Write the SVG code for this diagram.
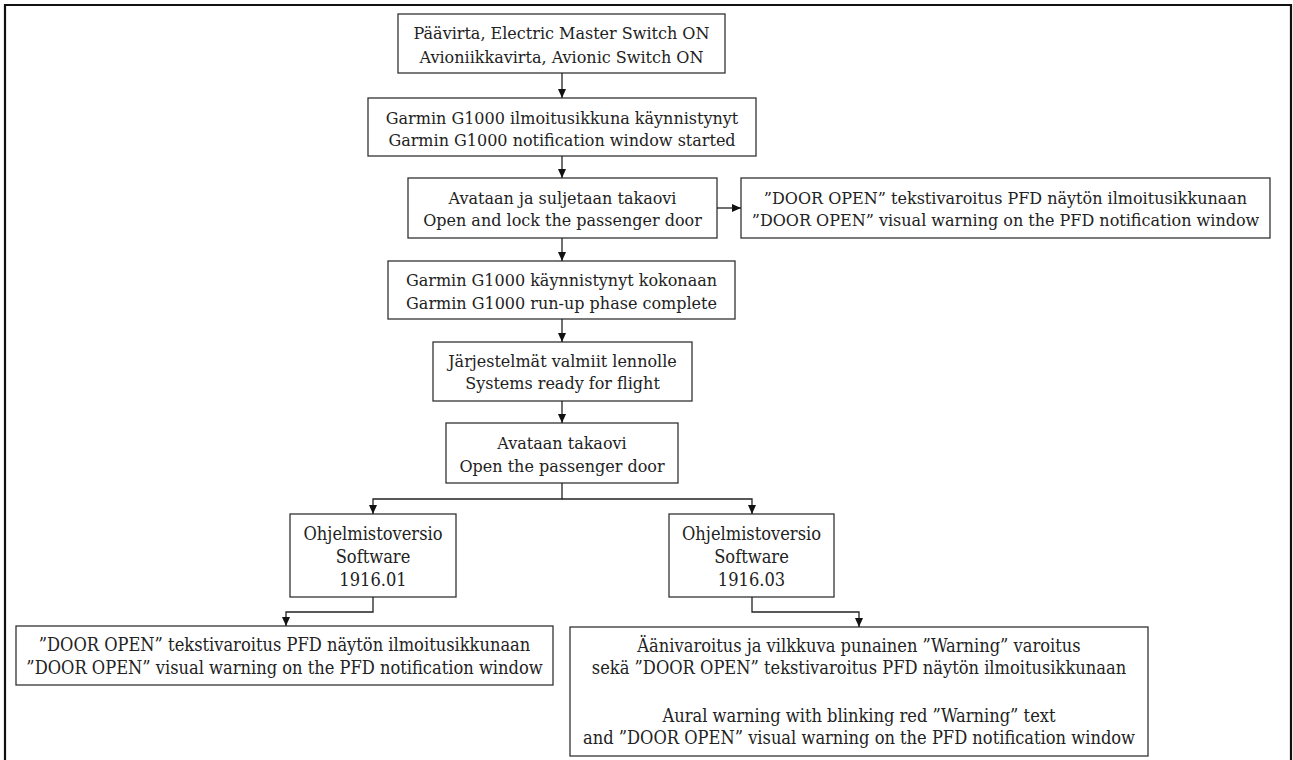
<svg xmlns="http://www.w3.org/2000/svg" width="1293" height="760" viewBox="0 0 1293 760">
<style>
.box{fill:#fff;stroke:#333;stroke-width:1.3}
.t{font-family:"DejaVu Serif","Liberation Serif",serif;font-size:16px;fill:#222;text-anchor:middle}
.k{font-family:"DejaVu Serif","Liberation Serif",serif;font-stretch:condensed;font-size:18.1px;fill:#222;text-anchor:middle}
.c{fill:none;stroke:#222;stroke-width:1.3}
</style>
<defs>
<marker id="ah" markerUnits="userSpaceOnUse" markerWidth="10" markerHeight="10" refX="9" refY="5" orient="auto">
<path d="M0,1 L9,5 L0,9 Z" fill="#111"/>
</marker>
</defs>
<rect x="0" y="0" width="1293" height="760" fill="#fff"/>
<path d="M5,762 L5,5 L1291,5 L1291,762" fill="none" stroke="#111" stroke-width="2.2"/>
<g id="n1"><rect class="box" x="398" y="14" width="327" height="59"/>
<text class="t" x="561.5" y="39">Päävirta, Electric Master Switch ON</text>
<text class="t" x="561.5" y="63">Avioniikkavirta, Avionic Switch ON</text></g>
<g id="n2"><rect class="box" x="368" y="98" width="388" height="58"/>
<text class="t" x="562" y="124">Garmin G1000 ilmoitusikkuna käynnistynyt</text>
<text class="t" x="562" y="146">Garmin G1000 notification window started</text></g>
<g id="n3"><rect class="box" x="408" y="178" width="309" height="60"/>
<text class="t" x="562.5" y="204">Avataan ja suljetaan takaovi</text>
<text class="t" x="562.5" y="226">Open and lock the passenger door</text></g>
<g id="n4"><rect class="box" x="741" y="178" width="529" height="60"/>
<text class="t" x="1005.5" y="204">”DOOR OPEN” tekstivaroitus PFD näytön ilmoitusikkunaan</text>
<text class="t" x="1005.5" y="226">”DOOR OPEN” visual warning on the PFD notification window</text></g>
<g id="n5"><rect class="box" x="388" y="261" width="347" height="58"/>
<text class="t" x="561.5" y="286">Garmin G1000 käynnistynyt kokonaan</text>
<text class="t" x="561.5" y="309">Garmin G1000 run-up phase complete</text></g>
<g id="n6"><rect class="box" x="433" y="342" width="259" height="59"/>
<text class="t" x="562.5" y="367">Järjestelmät valmiit lennolle</text>
<text class="t" x="562.5" y="389">Systems ready for flight</text></g>
<g id="n7"><rect class="box" x="446" y="423" width="232" height="60"/>
<text class="t" x="562" y="449">Avataan takaovi</text>
<text class="t" x="562" y="472">Open the passenger door</text></g>
<g id="n8"><rect class="box" x="290" y="514" width="166" height="83"/>
<text class="k" x="373" y="540">Ohjelmistoversio</text>
<text class="k" x="373" y="563">Software</text>
<text class="k" x="373" y="586">1916.01</text></g>
<g id="n9"><rect class="box" x="669" y="514" width="165" height="83"/>
<text class="k" x="751.5" y="540">Ohjelmistoversio</text>
<text class="k" x="751.5" y="563">Software</text>
<text class="k" x="751.5" y="586">1916.03</text></g>
<g id="n10"><rect class="box" x="16" y="626" width="537" height="59"/>
<text class="k" x="284.5" y="651">”DOOR OPEN” tekstivaroitus PFD näytön ilmoitusikkunaan</text>
<text class="k" x="284.5" y="674">”DOOR OPEN” visual warning on the PFD notification window</text></g>
<g id="n11"><rect class="box" x="570" y="627" width="578" height="129"/>
<text class="k" x="859" y="652">Äänivaroitus ja vilkkuva punainen ”Warning” varoitus</text>
<text class="k" x="859" y="674">sekä ”DOOR OPEN”  tekstivaroitus PFD näytön ilmoitusikkunaan</text>
<text class="k" x="859" y="722">Aural warning with  blinking red ”Warning” text</text>
<text class="k" x="859" y="744">and ”DOOR OPEN” visual warning on the PFD notification  window</text></g>
<g id="connectors">
<path class="c" d="M562,73 L562,98" marker-end="url(#ah)"/>
<path class="c" d="M562,156 L562,178" marker-end="url(#ah)"/>
<path class="c" d="M717,208 L741,208" marker-end="url(#ah)"/>
<path class="c" d="M562,238 L562,261" marker-end="url(#ah)"/>
<path class="c" d="M562,319 L562,342" marker-end="url(#ah)"/>
<path class="c" d="M562,401 L562,423" marker-end="url(#ah)"/>
<path class="c" d="M562,483 L562,499 L373,499 L373,514" marker-end="url(#ah)"/>
<path class="c" d="M562,499 L752,499 L752,514" marker-end="url(#ah)"/>
<path class="c" d="M373,597 L373,612 L286,612 L286,626" marker-end="url(#ah)"/>
<path class="c" d="M752,597 L752,612 L859,612 L859,627" marker-end="url(#ah)"/>
</g>
</svg>
